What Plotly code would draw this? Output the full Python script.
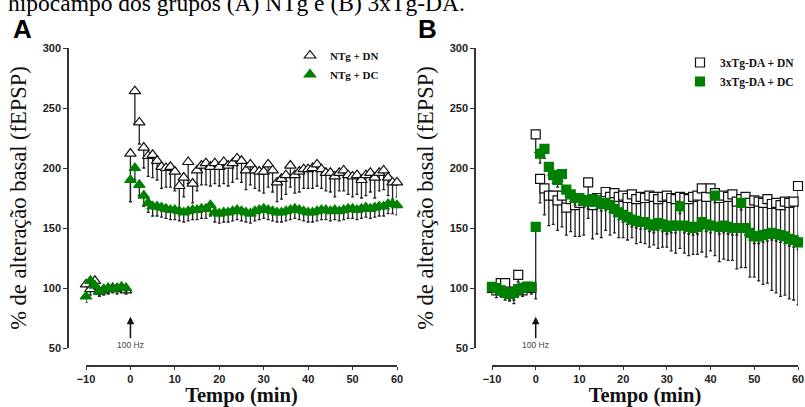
import plotly.graph_objects as go

# ---------------- data ----------------
tempo = list(range(-10, 61))  # minutes

# Panel A
ntg_dn = [103, 99, 106, 97, 98, 99, 100, 99, 100, 98,
          212, 264, 238, 217, 210, 211, 206, 201, 200, 201,
          197, 185, 192, 205, 187, 198, 202, 204, 201, 204,
          201, 205, 202, 204, 208, 206, 198, 203, 198, 197,
          197, 203, 198, 188, 191, 194, 202, 194, 197, 199,
          199, 200, 203, 199, 196, 196, 193, 196, 198, 194,
          193, 194, 190, 194, 196, 192, 196, 198, 192, 188,
          188]
ntg_dn_err = [6, 5, 7, 4, 4, 4, 3, 4, 3, 3,
              40, 27, 18, 17, 17, 19, 16, 18, 16, 17,
              16, 18, 16, 18, 16, 17, 16, 18, 16, 17,
              16, 18, 17, 16, 17, 18, 16, 17, 15, 16,
              18, 19, 18, 16, 17, 16, 18, 15, 17, 16,
              16, 17, 18, 16, 15, 16, 17, 15, 17, 16,
              17, 16, 15, 17, 16, 17, 15, 16, 15, 14,
              12]
ntg_dc = [93, 106, 102, 97, 99, 100, 99, 100, 101, 100,
          190, 200, 186, 177, 171, 168, 168, 167, 166, 165,
          165, 164, 163, 164, 165, 165, 166, 166, 169, 163,
          162, 163, 163, 164, 165, 164, 163, 162, 164, 165,
          166, 165, 164, 163, 163, 164, 165, 166, 165, 164,
          163, 163, 164, 165, 165, 164, 165, 164, 165, 166,
          166, 165, 166, 167, 166, 167, 168, 168, 170, 170,
          169]
ntg_dc_err = [5, 4, 3, 3, 3, 3, 3, 3, 3, 3,
              18, 10, 9, 9, 8, 8, 8, 8, 8, 8,
              8, 8, 8, 8, 8, 8, 8, 8, 9, 8,
              8, 8, 8, 8, 8, 8, 8, 8, 8, 8,
              8, 8, 8, 8, 8, 8, 8, 8, 8, 8,
              8, 8, 8, 8, 8, 8, 8, 8, 8, 8,
              8, 8, 8, 8, 8, 8, 8, 8, 8, 8,
              8]

# Panel B
tg_dn = [100, 98, 104, 104, 97, 96, 111, 98, 101, 100,
         228, 191, 183, 177, 177, 173, 177, 167, 174, 169,
         171, 173, 188, 169, 175, 173, 180, 176, 179, 176,
         177, 175, 178, 174, 176, 175, 177, 176, 174, 176,
         177, 175, 174, 176, 175, 174, 176, 177, 183, 176,
         183, 179, 175, 177, 176, 178, 172, 174, 176, 171,
         173, 172, 171, 174, 170, 171, 169, 172, 171, 172,
         185]
tg_dn_err = [5, 6, 6, 5, 8, 9, 6, 5, 4, 5,
             15, 20, 22, 25, 24, 25, 26, 23, 27, 26,
             28, 29, 30, 28, 30, 31, 32, 32, 33, 34,
             35, 35, 36, 37, 38, 38, 43, 40, 41, 42,
             43, 44, 45, 43, 46, 47, 48, 49, 53, 50,
             52, 52, 53, 53, 53, 55, 56, 57, 59, 62,
             64, 66, 68, 70, 72, 75, 76, 78, 80, 82,
             99]
tg_dc = [101, 100, 98, 96, 95, 96, 99, 100, 101, 101,
         151, 212, 216, 201, 194, 190, 195, 182, 178, 175,
         175, 173, 172, 174, 172, 170, 171, 169, 166, 163,
         161, 159, 157, 156, 155, 155, 153, 152, 154, 153,
         151, 152, 152, 168, 152, 151, 150, 151, 155, 153,
         152, 177, 151, 152, 151, 150, 150, 171, 150, 146,
         143, 143, 144, 145, 146, 145, 144, 143, 141, 140,
         138]
tg_dc_err = [4, 5, 5, 6, 5, 6, 4, 5, 4, 4,
             60, 8, 8, 7, 7, 6, 6, 6, 6, 6,
             6, 6, 6, 6, 6, 6, 6, 6, 6, 6,
             6, 6, 6, 6, 6, 6, 6, 6, 6, 6,
             6, 6, 6, 6, 6, 6, 6, 6, 6, 6,
             6, 6, 6, 6, 6, 6, 6, 6, 6, 6,
             6, 6, 6, 6, 6, 6, 6, 6, 6, 6,
             6]

x_ticks = [-10, 0, 10, 20, 30, 40, 50, 60]
y_ticks = [50, 100, 150, 200, 250, 300]
names = ["NTg + DN", "NTg + DC", "3xTg-DA + DN", "3xTg-DA + DC"]

GREEN = "#008000"
W, H = 805, 407
SANS = "Liberation Sans, Arial, sans-serif"
SERIF = "Liberation Serif, Times New Roman, serif"

fig = go.Figure()


def add(y, err, name, xa, ya, symbol, fill, edge, size, legend):
    fig.add_trace(go.Scatter(
        x=tempo, y=y, mode="markers", name=name, xaxis=xa, yaxis=ya,
        marker=dict(symbol=symbol, size=size, color=fill,
                    line=dict(color=edge, width=1.2)),
        error_y=dict(type="data", symmetric=False, array=[0] * len(y),
                     arrayminus=err, color="#222222", thickness=1.3, width=1.5),
        cliponaxis=False, legend=legend))


add(ntg_dn, ntg_dn_err, names[0], "x", "y", "triangle-up", "white", "#111111", 10, "legend")
add(ntg_dc, ntg_dc_err, names[1], "x", "y", "triangle-up", GREEN, GREEN, 10, "legend")
add(tg_dn, tg_dn_err, names[2], "x2", "y2", "square", "white", "#111111", 9, "legend2")
add(tg_dc, tg_dc_err, names[3], "x2", "y2", "square", GREEN, GREEN, 9, "legend2")

ydom = [1 - 348 / H, 1 - 48 / H]
xpos = 1 - 366 / H
tickfont = dict(family=SANS, size=11, color="#222222", weight="bold")

common_x = dict(range=[-10, 60], tickvals=x_ticks, anchor="free", position=xpos,
                showline=True, linecolor="#333333", linewidth=1.5, ticks="outside",
                ticklen=3, tickcolor="#333333", showgrid=False, zeroline=False,
                tickfont=tickfont, automargin=False,
                title=dict(text="Tempo (min)", standoff=8,
                           font=dict(family=SERIF, size=20.5, color="#111111", weight="bold")))
common_y = dict(range=[50, 300], tickvals=y_ticks, domain=ydom, anchor="free",
                showline=True, linecolor="#333333", linewidth=1.5, ticks="outside",
                ticklen=4, tickcolor="#333333", showgrid=False, zeroline=False,
                tickfont=tickfont, automargin=False,
                title=dict(text="% de alteração basal (fEPSP)", standoff=9,
                           font=dict(family=SERIF, size=22.5, color="#111111")))

fig.update_layout(
    width=W, height=H, margin=dict(l=0, r=0, t=0, b=0, autoexpand=False),
    paper_bgcolor="white", plot_bgcolor="white",
    xaxis=dict(domain=[86 / W, 397 / W], **common_x),
    yaxis=dict(position=68 / W, **common_y),
    xaxis2=dict(domain=[492 / W, 798 / W], **common_x),
    yaxis2=dict(position=475 / W, **common_y),
    legend=dict(x=290 / W, y=1 - 41 / H, xanchor="left", yanchor="top",
                bgcolor="rgba(0,0,0,0)",
                font=dict(family=SERIF, size=11, color="#111111", weight="bold")),
    legend2=dict(x=680 / W, y=1 - 48 / H, xanchor="left", yanchor="top",
                 bgcolor="rgba(0,0,0,0)",
                 font=dict(family=SERIF, size=11.5, color="#111111", weight="bold")),
    showlegend=True,
)

annots = [
    dict(text="hipocampo dos grupos (A) NTg e (B) 3xTg-DA.", x=6 / W, y=1 - 3 / H,
         xref="paper", yref="paper", xanchor="left", yanchor="middle", showarrow=False,
         font=dict(family=SERIF, size=23.5, color="#000000")),
    dict(text="A", x=22 / W, y=1 - 29 / H, xref="paper", yref="paper",
         xanchor="center", yanchor="middle",
         showarrow=False, font=dict(family=SANS, size=26, color="#000000", weight="bold")),
    dict(text="B", x=428 / W, y=1 - 29 / H, xref="paper", yref="paper",
         xanchor="center", yanchor="middle",
         showarrow=False, font=dict(family=SANS, size=26, color="#000000", weight="bold")),
]
for xr, yr in (("x", "y"), ("x2", "y2")):
    annots.append(dict(text="100 Hz", x=0, y=76, xref=xr, yref=yr, showarrow=True,
                       ax=0, ay=28, arrowhead=2, arrowsize=1, arrowwidth=1.5,
                       arrowcolor="#111111", standoff=0,
                       font=dict(family=SANS, size=8.5, color="#444444")))
fig.update_layout(annotations=annots)

fig.write_html("out.html", config={"displayModeBar": False},
               post_script="document.body.style.margin='0';document.body.style.overflow='hidden';")
